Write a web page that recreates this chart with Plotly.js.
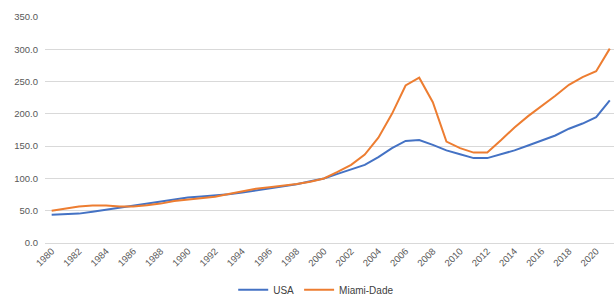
<!DOCTYPE html>
<html>
<head>
<meta charset="utf-8">
<script src="https://cdn.plot.ly/plotly-3.0.1.min.js"></script>
<style>html,body{margin:0;padding:0;background:#fff;}#chart{width:614px;height:297px;}</style>
</head>
<body>
<div id="chart"></div>
<script>
var years = [1980,1981,1982,1983,1984,1985,1986,1987,1988,1989,
             1990,1991,1992,1993,1994,1995,1996,1997,1998,1999,
             2000,2001,2002,2003,2004,2005,2006,2007,2008,2009,
             2010,2011,2012,2013,2014,2015,2016,2017,2018,2019,
             2020,2021];
var usa = [43.7,44.8,45.5,48.5,51.5,54.5,57.5,61,64,67.5,
           70.5,72,73.5,75.5,78,81,84,87,91,95.5,
           100,107,113.5,121,133,147,158,159.5,152,143.5,
           137.5,131.5,131.5,137,143.5,151,158.5,166.5,177,185,
           195,221];
var miami = [49.8,53.5,56.5,58,58,56.5,56.5,58.5,61,65,
             67.5,69.5,71.5,76,80,84,86.5,88.5,91.5,95,
             100,110,121,137,163,200,244,256,218,157,
             147,140,140,159,179,196.5,212,228,245,257,
             266,301];
var xTicks = [1980,1982,1984,1986,1988,1990,1992,1994,1996,1998,2000,2002,2004,2006,2008,2010,2012,2014,2016,2018,2020];
var yTicks = [0,50,100,150,200,250,300,350];

var traces = [
  {x: years, y: usa, name: 'USA', type: 'scatter', mode: 'lines',
   line: {color: '#4472C4', width: 2}},
  {x: years, y: miami, name: 'Miami-Dade', type: 'scatter', mode: 'lines',
   line: {color: '#ED7D31', width: 2}}
];
var layout = {
  width: 614, height: 297,
  margin: {l: 45, r: 0, t: 16.5, b: 53.7},
  paper_bgcolor: '#ffffff', plot_bgcolor: '#ffffff',
  font: {family: 'Liberation Sans, Arial, sans-serif', size: 9.5, color: '#595959'},
  showlegend: true,
  legend: {orientation: 'h', x: 0.515, xanchor: 'center', xref: 'container',
           y: 0.024, yanchor: 'middle', yref: 'container',
           font: {size: 10, color: '#404040'}, itemwidth: 30, tracegroupgap: 0},
  xaxis: {range: [1979.51, 2021.31], tickmode: 'array', tickvals: xTicks,
          ticktext: xTicks.map(String), tickangle: -45, showgrid: false,
          zeroline: false, showline: false, ticks: '', fixedrange: true,
          tickfont: {size: 9.5, color: '#595959'}},
  yaxis: {range: [0, 350], tickmode: 'array', tickvals: yTicks,
          ticktext: yTicks.map(function(v){return v.toFixed(1);}),
          showgrid: true, gridcolor: '#d9d9d9', gridwidth: 1,
          zeroline: true, zerolinecolor: '#d9d9d9', zerolinewidth: 1,
          showline: false, ticks: '', ticklabelstandoff: 6,
          tickfont: {size: 9.5, color: '#595959'}}
};
Plotly.newPlot('chart', traces, layout, {staticPlot: true, displayModeBar: false});
</script>
</body>
</html>
